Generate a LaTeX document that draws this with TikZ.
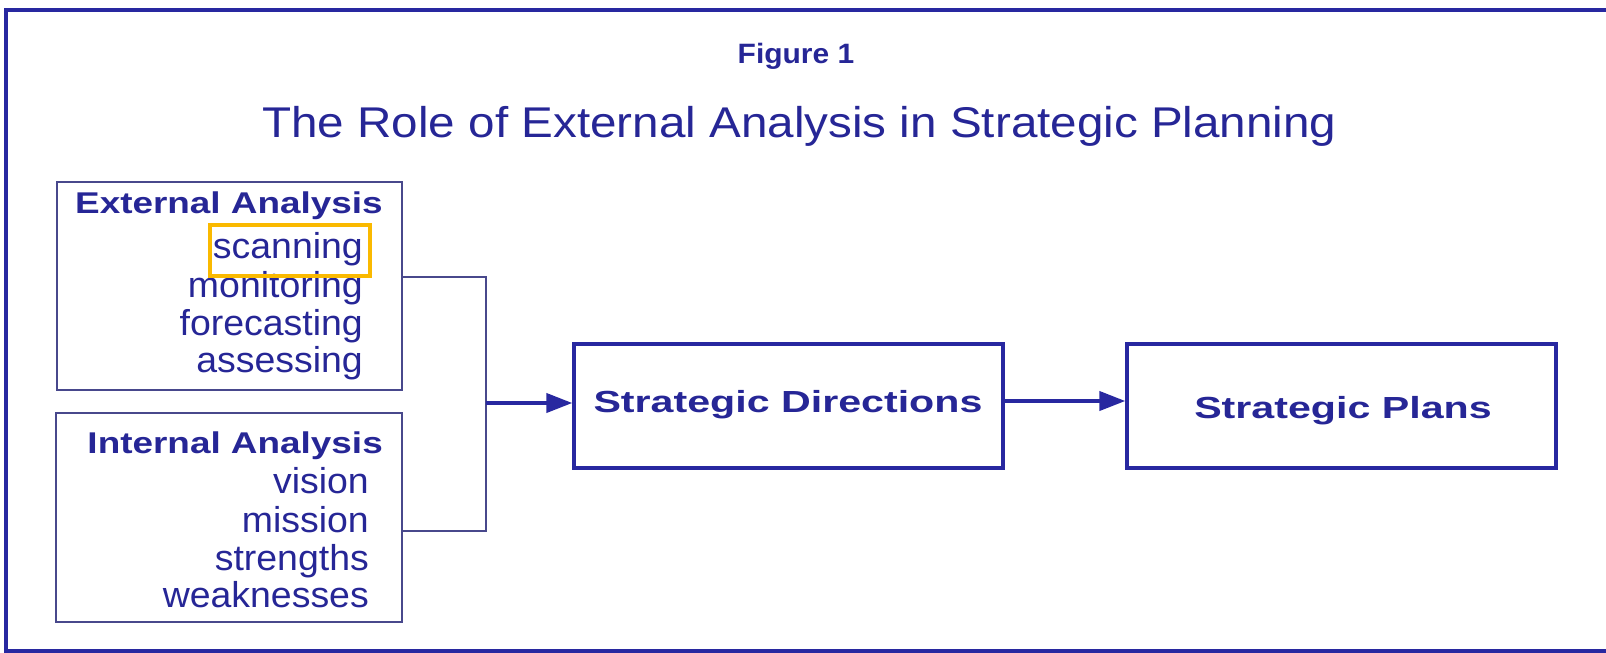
\documentclass[tikz,border=0pt]{standalone}
\usepackage{fontspec}
\setmainfont{Liberation Sans}
\newfontfamily\titlefont{Liberation Sans}[FakeStretch=1.107]
\newfontfamily\figfont{Liberation Sans}[FakeStretch=1.07]
\newfontfamily\headfont{Liberation Sans}[FakeStretch=1.23]
\newfontfamily\itemfont{Liberation Sans}[FakeStretch=1.04]
\newfontfamily\boxfont{Liberation Sans}[FakeStretch=1.35]
\usetikzlibrary{arrows.meta}
\definecolor{ink}{RGB}{38,38,150}
\definecolor{frameblue}{RGB}{40,40,160}
\definecolor{thinline}{RGB}{72,72,140}
\definecolor{hilite}{RGB}{250,185,0}
\tikzset{
  txt/.style={inner sep=0pt, text=ink},
  titletxt/.style={txt, font=\titlefont\fontsize{43}{50}\selectfont},
  figtxt/.style={txt, font=\figfont\bfseries\fontsize{28}{32}\selectfont},
  headtxt/.style={txt, font=\headfont\bfseries\fontsize{30}{36}\selectfont},
  itemtxt/.style={txt, font=\itemfont\fontsize{36}{38}\selectfont},
  boxtxt/.style={txt, font=\boxfont\bfseries\fontsize{30.5}{36}\selectfont},
  anbox/.style={draw=thinline, line width=2pt, rectangle, inner sep=0pt},
  stbox/.style={draw=frameblue, line width=3.3pt, rectangle, inner sep=0pt,
    minimum width=429pt, minimum height=124pt},
  thinconn/.style={draw=thinline, line width=2pt},
  arr/.style={draw=frameblue, line width=4pt,
    -{Triangle[length=26pt,width=19pt]}},
}
\begin{document}
\begin{tikzpicture}[x=1pt,y=-1pt]
\useasboundingbox (0,0) rectangle (1606,653);
% outer frame
\draw[frameblue, line width=3.5pt] (1606,10) -- (6,10) -- (6,651) -- (1606,651);
% titles
\node[figtxt, anchor=base] (fig) at (796,63) {Figure 1};
\node[titletxt, anchor=base] (title) at (799.5,137) {The Role of External Analysis in Strategic Planning};
% analysis boxes
\node[anbox, minimum width=345pt, minimum height=208pt] (ext) at (229.5,286) {};
\node[anbox, minimum width=346pt, minimum height=209pt] (int) at (229,517.5) {};
% external texts
\node[headtxt, anchor=base east] (exth) at (383,213) {External Analysis};
\node[itemtxt, anchor=base east] (e1) at (363,258) {scanning};
\node[itemtxt, anchor=base east] (e2) at (363,297) {monitoring};
\node[itemtxt, anchor=base east] (e3) at (363,335) {forecasting};
\node[itemtxt, anchor=base east] (e4) at (363,372) {assessing};
% internal texts
\node[headtxt, anchor=base east] (inth) at (383,453) {Internal Analysis};
\node[itemtxt, anchor=base east] (i1) at (369,493) {vision};
\node[itemtxt, anchor=base east] (i2) at (369,532) {mission};
\node[itemtxt, anchor=base east] (i3) at (369,570) {strengths};
\node[itemtxt, anchor=base east] (i4) at (369,607) {weaknesses};
% highlight
\node[draw=hilite, line width=3.5pt, rectangle, inner sep=0pt,
  minimum width=160pt, minimum height=51pt] (hl) at (290,250.5) {};
% strategic boxes
\node[stbox] (sd) at (788.5,406) {};
\node[stbox] (sp) at (1341.5,406) {};
\node[boxtxt, anchor=base] (sdt) at (788,412) {Strategic Directions};
\node[boxtxt, anchor=base] (spt) at (1343,418) {Strategic Plans};
% connectors
\coordinate (ja) at (486,277);
\coordinate (jb) at (486,531);
\coordinate (jm) at (486,403);
\coordinate (km) at (1003,401);
\draw[thinconn] (ja -| ext.east) -- (ja) -- (jb) -- (jb -| int.east);
\draw[arr] (jm) -- (jm -| sd.west);
\draw[arr] (km -| sd.east) -- (km -| sp.west);
\end{tikzpicture}
\end{document}
